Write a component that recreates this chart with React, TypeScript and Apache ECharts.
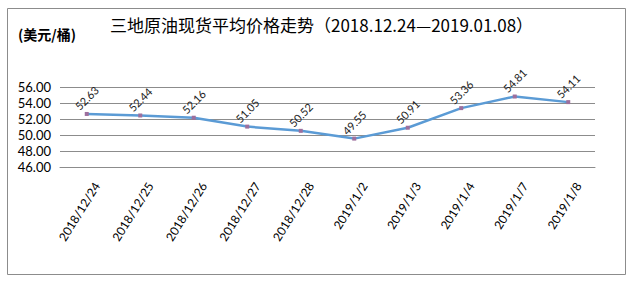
import React, { useEffect, useRef } from "react";
import * as echarts from "echarts";

const categories = [
  "2018/12/24", "2018/12/25", "2018/12/26", "2018/12/27", "2018/12/28",
  "2019/1/2", "2019/1/3", "2019/1/4", "2019/1/7", "2019/1/8",
];
const prices = [52.63, 52.44, 52.16, 51.05, 50.52, 49.55, 50.91, 53.36, 54.81, 54.11];
const titleText = "三地原油现货平均价格走势（2018.12.24—2019.01.08）";
const unitText = "(美元/桶)";
const yMin = 46;
const yMax = 56;
const yStep = 2;

export default function App() {
  const ref = useRef<HTMLDivElement>(null);
  useEffect(() => {
    if (!ref.current) return;
    const chart = echarts.init(ref.current, null, { renderer: "svg" });
    chart.setOption({
      animation: false,
      backgroundColor: "#ffffff",
      graphic: [
        {
          type: "rect",
          shape: { x: 7.5, y: 8.5, width: 618, height: 266 },
          style: { fill: "none", stroke: "#8c8c8c", lineWidth: 1 },
          silent: true,
        },
        {
          type: "text",
          left: 18,
          top: 27,
          style: {
            text: unitText,
            font: "bold 14px 'Noto Sans CJK SC'",
            fill: "#000",
          },
        },
        {
          type: "text",
          left: 110,
          top: 16,
          style: {
            text: titleText,
            font: "17px 'Noto Sans CJK SC'",
            fill: "#000",
          },
        },
      ],
      grid: { left: 60, right: 37, top: 87, bottom: 115, containLabel: false },
      xAxis: {
        type: "category",
        data: categories,
        boundaryGap: true,
        axisLine: { show: true, lineStyle: { color: "#8c8c8c", width: 1 } },
        axisTick: { show: false },
        axisLabel: {
          rotate: 58,
          margin: 10,
          interval: 0,
          verticalAlign: "top",
          padding: [6, 0, 0, 0],
          fontFamily: "Lato",
          fontSize: 12,
          color: "#000",
        },
      },
      yAxis: {
        type: "value",
        min: yMin,
        max: yMax,
        interval: yStep,
        axisLine: { show: false },
        axisTick: { show: false },
        splitLine: { lineStyle: { color: "#8c8c8c", width: 1 } },
        axisLabel: {
          formatter: (v: number) => v.toFixed(2),
          fontFamily: "Lato",
          fontSize: 13,
          color: "#000",
          margin: 9,
        },
      },
      series: [
        {
          type: "line",
          data: prices,
          smooth: false,
          symbol: "rect",
          symbolSize: 4,
          itemStyle: { color: "#9d6f9d" },
          lineStyle: { color: "#5b9bd5", width: 2.5 },
          label: {
            show: true,
            position: "top",
            distance: 14,
            rotate: 45,
            align: "center",
            verticalAlign: "middle",
            formatter: (p: any) => p.value.toFixed(2),
            fontFamily: "Lato",
            fontSize: 11,
            color: "#222",
          },
        },
      ],
    });
    return () => chart.dispose();
  }, []);
  return (
    <div
      ref={ref}
      style={{ position: "absolute", left: 0, top: 0, width: 632, height: 282 }}
    />
  );
}
